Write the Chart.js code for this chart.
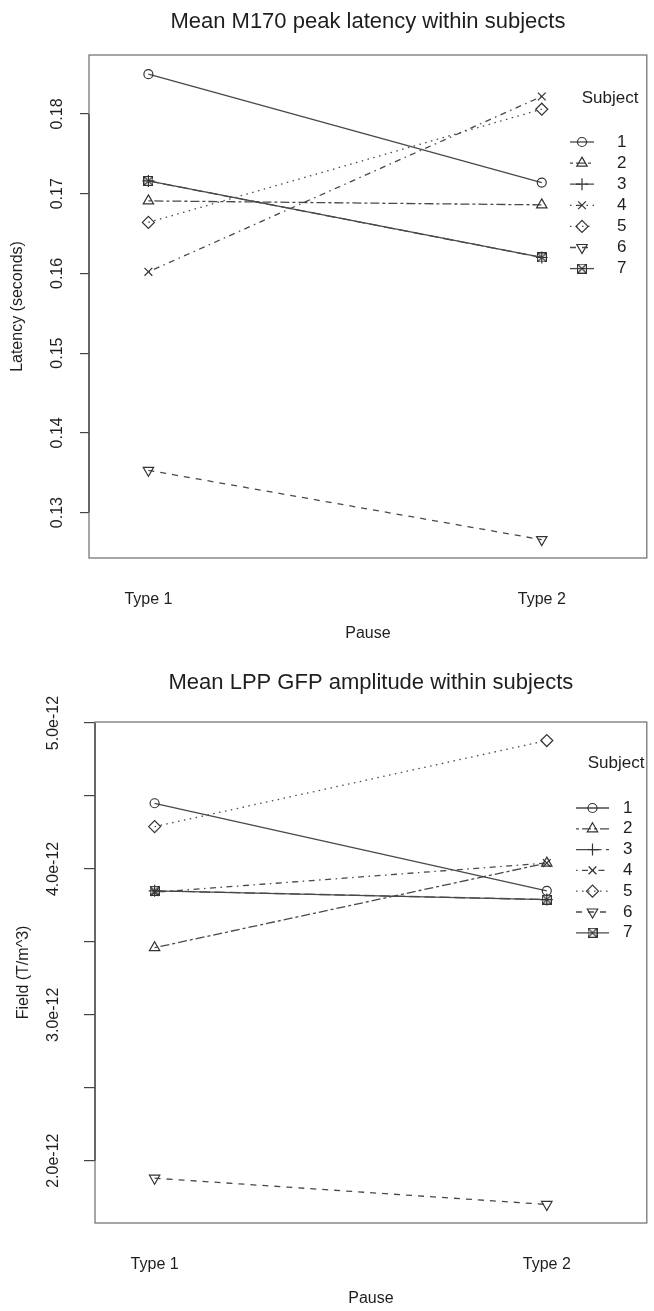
<!DOCTYPE html>
<html>
<head>
<meta charset="utf-8">
<script src="https://cdn.jsdelivr.net/npm/chart.js@4.4.0/dist/chart.umd.min.js"></script>
<style>
  html, body { margin: 0; padding: 0; background: #fff; }
  .wrap { position: relative; width: 654px; }
  #latencyWrap { height: 655px; }
  #fieldWrap { height: 656px; }
</style>
</head>
<body>
<div class="wrap" id="latencyWrap"><canvas id="latencyChart"></canvas></div>
<div class="wrap" id="fieldWrap"><canvas id="fieldChart"></canvas></div>
<script>
const pauseTypes = ["Type 1", "Type 2"];
const subjects = ["1", "2", "3", "4", "5", "6", "7"];

// M170 peak latency (seconds), one value per subject
const latencyType1 = [0.1850, 0.1691, 0.1716, 0.1602, 0.1664, 0.1353, 0.1716];
const latencyType2 = [0.1714, 0.1686, 0.1620, 0.1822, 0.1806, 0.1266, 0.1620];
const latencyTicks = [0.13, 0.14, 0.15, 0.16, 0.17, 0.18];
const latencyTickLabels = ["0.13", "0.14", "0.15", "0.16", "0.17", "0.18"];

// LPP GFP amplitude (T/m^3), one value per subject
const fieldType1 = [4.45e-12, 3.46e-12, 3.85e-12, 3.84e-12, 4.29e-12, 1.88e-12, 3.85e-12];
const fieldType2 = [3.85e-12, 4.04e-12, 3.79e-12, 4.04e-12, 4.88e-12, 1.70e-12, 3.79e-12];
const fieldTicks = [2.0e-12, 2.5e-12, 3.0e-12, 3.5e-12, 4.0e-12, 4.5e-12, 5.0e-12];
const fieldTickLabels = ["2.0e-12", "", "3.0e-12", "", "4.0e-12", "", "5.0e-12"];

const FONT = "'Liberation Sans', Arial, Helvetica, sans-serif";
const INK = "#1e1e1e";
const LINE = "#484848";
const MARK = "#333";

// R style line types: solid, twodash, longdash, dotdash, dotted, dashed, solid
const dashes = [[], [3, 3, 9, 3], [10.5, 4.5], [1.5, 4.5, 6, 4.5], [1.5, 4.5], [6, 6], []];

function boxCross(size) {
  const c = document.createElement("canvas");
  c.width = c.height = size;
  const g = c.getContext("2d");
  g.strokeStyle = MARK;
  g.lineWidth = 1.2;
  g.strokeRect(0.5, 0.5, size - 1, size - 1);
  g.beginPath();
  g.moveTo(0.5, 0.5); g.lineTo(size - 0.5, size - 0.5);
  g.moveTo(size - 0.5, 0.5); g.lineTo(0.5, size - 0.5);
  g.stroke();
  return c;
}

const pointStyles = ["circle", "triangle", "cross", "crossRot", "rectRot", "triangle", boxCross(10)];
const pointRots = [0, 0, 0, 0, 0, 180, 0];
const pointSizes = [4.5, 6, 6, 5.5, 6, 6, 5];

function makeDatasets(type1, type2) {
  return subjects.map((s, i) => ({
    label: s,
    data: [type1[i], type2[i]].map((v, k) => ({ x: k + 1, y: v })),
    borderColor: LINE,
    borderWidth: 1.3,
    borderDash: dashes[i],
    fill: false,
    tension: 0,
    pointStyle: pointStyles[i],
    pointRotation: pointRots[i],
    pointRadius: pointSizes[i],
    pointBorderColor: MARK,
    pointBorderWidth: 1.2,
    pointBackgroundColor: "rgba(0,0,0,0)"
  }));
}

const rStyle = {
  id: "rStyle",
  beforeDatasetsDraw(chart, args, o) {
    const { ctx, chartArea: a } = chart;
    const y = chart.scales.y;
    ctx.save();
    ctx.strokeStyle = "#777";
    ctx.lineWidth = 1.3;
    ctx.strokeRect(a.left, a.top, a.right - a.left, a.bottom - a.top);
    // axis line between first and last tick
    ctx.strokeStyle = "#444";
    ctx.beginPath();
    ctx.moveTo(a.left, y.getPixelForValue(o.ticks[0]));
    ctx.lineTo(a.left, y.getPixelForValue(o.ticks[o.ticks.length - 1]));
    ctx.stroke();
    // rotated tick labels
    ctx.fillStyle = INK;
    ctx.font = "16px " + FONT;
    ctx.textAlign = "center";
    ctx.textBaseline = "middle";
    o.ticks.forEach((v, i) => {
      if (!o.tickLabels[i]) return;
      ctx.save();
      ctx.translate(a.left - o.labelGap, y.getPixelForValue(v));
      ctx.rotate(-Math.PI / 2);
      ctx.fillText(o.tickLabels[i], 0, 0);
      ctx.restore();
    });
    // title
    ctx.font = "22px " + FONT;
    ctx.fillText(o.title, (a.left + a.right) / 2, o.titleY);
    ctx.restore();
  },
  afterDraw(chart, args, o) {
    const { ctx } = chart;
    const L = o.legend;
    ctx.save();
    ctx.fillStyle = INK;
    ctx.font = "17px " + FONT;
    ctx.textAlign = "center";
    ctx.textBaseline = "middle";
    ctx.fillText("Subject", L.headX, L.headY);
    chart.data.datasets.forEach((ds, i) => {
      const yy = L.y0 + i * L.step;
      ctx.strokeStyle = LINE;
      ctx.lineWidth = 1.3;
      ctx.setLineDash(ds.borderDash);
      ctx.beginPath();
      ctx.moveTo(L.x0, yy);
      ctx.lineTo(L.x1, yy);
      ctx.stroke();
      ctx.setLineDash([]);
      ctx.strokeStyle = MARK;
      ctx.lineWidth = 1.2;
      ctx.fillStyle = "rgba(0,0,0,0)";
      Chart.helpers.drawPoint(ctx, {
        pointStyle: ds.pointStyle, rotation: ds.pointRotation,
        radius: ds.pointRadius, borderWidth: 1.2
      }, (L.x0 + L.x1) / 2, yy);
      ctx.fillStyle = INK;
      ctx.textAlign = "left";
      ctx.fillText(ds.label, L.numX, yy);
    });
    ctx.restore();
  }
};

function makeChart(id, c) {
  return new Chart(document.getElementById(id), {
    type: "line",
    data: { datasets: makeDatasets(c.type1, c.type2) },
    plugins: [rStyle],
    options: {
      responsive: true,
      maintainAspectRatio: false,
      animation: false,
      layout: { padding: { top: c.top, right: 2, left: 0, bottom: 0 } },
      plugins: {
        legend: { display: false },
        tooltip: { enabled: false },
        rStyle: c.style
      },
      scales: {
        x: {
          type: "linear",
          min: c.xMin, max: c.xMax,
          afterBuildTicks: s => { s.ticks = pauseTypes.map((_, k) => ({ value: k + 1 })); },
          afterFit: s => { s.height = c.xHeight; },
          ticks: {
            callback: v => pauseTypes[v - 1],
            padding: 24, color: INK, maxRotation: 0, autoSkip: false,
            font: { size: 16, family: FONT }
          },
          grid: { display: false },
          border: { display: false },
          title: {
            display: true, text: "Pause", color: INK,
            font: { size: 16, family: FONT }, padding: { bottom: c.pauseGap }
          }
        },
        y: {
          type: "linear",
          min: c.yMin, max: c.yMax,
          afterBuildTicks: s => { s.ticks = c.style.ticks.map(v => ({ value: v })); },
          afterFit: s => { s.width = c.yWidth; },
          ticks: { display: false },
          grid: { drawOnChartArea: false, drawTicks: true, tickLength: c.tickLen, color: "#444", lineWidth: 1.2 },
          border: { display: false },
          title: {
            display: true, text: c.yTitle, color: INK,
            font: { size: 16, family: FONT }, padding: { top: c.yTitleGap }
          }
        }
      }
    }
  });
}

makeChart("latencyChart", {
  type1: latencyType1, type2: latencyType2,
  top: 55, xHeight: 97, yWidth: 89, tickLen: 9, pauseGap: 12, yTitleGap: 8,
  xMin: 0.849, xMax: 2.267, yMin: 0.1243, yMax: 0.1874,
  yTitle: "Latency (seconds)",
  style: {
    title: "Mean M170 peak latency within subjects", titleY: 22,
    ticks: latencyTicks, tickLabels: latencyTickLabels, labelGap: 31,
    legend: { headX: 610, headY: 98, y0: 142, step: 21.1, x0: 570, x1: 594, numX: 617 }
  }
});

makeChart("fieldChart", {
  type1: fieldType1, type2: fieldType2,
  top: 67, xHeight: 88, yWidth: 95, tickLen: 11, pauseGap: 3, yTitleGap: 14,
  xMin: 0.848, xMax: 2.255, yMin: 1.573e-12, yMax: 5.007e-12,
  yTitle: "Field (T/m^3)",
  style: {
    title: "Mean LPP GFP amplitude within subjects", titleY: 28,
    ticks: fieldTicks, tickLabels: fieldTickLabels, labelGap: 41,
    legend: { headX: 616, headY: 108, y0: 153, step: 20.8, x0: 576, x1: 609, numX: 623 }
  }
});
</script>
</body>
</html>
